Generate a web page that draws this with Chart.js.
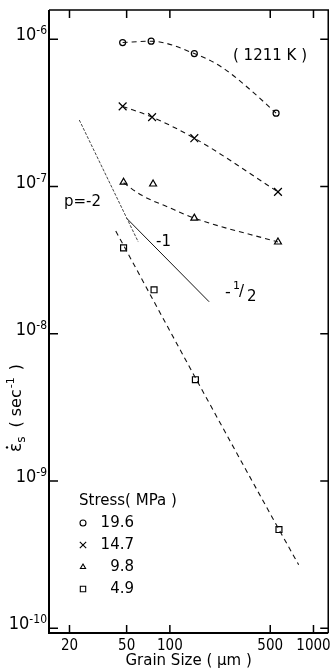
<!DOCTYPE html>
<html>
<head>
<meta charset="utf-8">
<script src="https://cdn.jsdelivr.net/npm/chart.js@4.4.1/dist/chart.umd.min.js"></script>
<style>
  html, body { margin: 0; padding: 0; background: #fff; }
  #wrap { width: 335px; height: 670px; }
</style>
</head>
<body>
<div id="wrap"><canvas id="grafica" width="335" height="670"></canvas></div>
<script>
  // Datos: velocidad de fluencia vs tamaño de grano (1211 K)
  const stressLabels = ['19.6', '14.7', '9.8', '4.9'];
  const stressStyles = ['circle', 'crossRot', 'triangle', 'rect'];

  // puntos medidos (tamaño de grano en µm, velocidad en s^-1)
  const grain196 = [46.9, 74.1, 148, 549];
  const rate196 = [9.5e-7, 9.7e-7, 8.0e-7, 3.15e-7];
  const grain147 = [46.9, 75.2, 148, 566];
  const rate147 = [3.5e-7, 2.96e-7, 2.13e-7, 9.2e-8];
  const grain98 = [47.6, 76.4, 148, 566];
  const rate98 = [1.07e-7, 1.04e-7, 6.1e-8, 4.2e-8];
  const grain49 = [47.6, 77.6, 150.6, 575];
  const rate49 = [3.83e-8, 1.99e-8, 4.88e-9, 4.69e-10];

  // curvas de ajuste a trazos
  const fitGrain196 = [46.9, 74.1, 148, 230, 353, 549];
  const fitRate196 = [9.5e-7, 9.7e-7, 8.0e-7, 6.46e-7, 4.65e-7, 3.15e-7];
  const fitGrain147 = [46.9, 75.2, 148, 566];
  const fitRate147 = [3.5e-7, 2.96e-7, 2.13e-7, 9.2e-8];
  const fitGrain98 = [47.6, 63.2, 96.8, 148, 566];
  const fitRate98 = [1.06e-7, 8.75e-8, 7.26e-8, 6.1e-8, 4.2e-8];
  const fitGrain49 = [42, 150.6, 575, 789];
  const fitRate49 = [4.99e-8, 5.03e-9, 4.69e-10, 2.7e-10];

  // rectas de pendiente p = -2 y p = -1
  const slope2Grain = [23.4, 60.3];
  const slope2Rate = [2.83e-7, 4.2e-8];
  const slope1Grain = [49.9, 187.7];
  const slope1Rate = [6.1e-8, 1.65e-8];

  // ejes
  const xTicks = [20, 50, 100, 500, 1000];
  const yTickExp = [-10, -9, -8, -7, -6];

  const NARROW = '"Liberation Sans Narrow", "DejaVu Sans Condensed", sans-serif';
  const SANS = '"DejaVu Sans", sans-serif';

  function toXY(xs, ys) {
    return xs.map((x, i) => ({ x: x, y: ys[i] }));
  }

  function markers(xs, ys, style, r) {
    return {
      data: toXY(xs, ys), showLine: false, pointStyle: style, pointRadius: r,
      pointBorderColor: '#000', pointBackgroundColor: '#fff', pointBorderWidth: 1.2
    };
  }

  function fit(xs, ys) {
    return {
      data: toXY(xs, ys), showLine: true, pointRadius: 0, borderColor: '#111',
      borderWidth: 1.1, borderDash: [5, 4], cubicInterpolationMode: 'monotone'
    };
  }

  // marco, marcas internas, etiquetas y leyenda
  const marco = {
    id: 'marco',
    afterDraw(chart) {
      const ctx = chart.ctx;
      const a = chart.chartArea;
      const sx = chart.scales.x, sy = chart.scales.y;
      ctx.save();
      ctx.strokeStyle = '#000';
      ctx.lineWidth = 2;
      ctx.beginPath();
      ctx.moveTo(a.left, a.top); ctx.lineTo(a.left, a.bottom); ctx.lineTo(a.right, a.bottom);
      ctx.stroke();
      ctx.lineWidth = 1.5;
      ctx.beginPath();
      ctx.moveTo(a.left, a.top); ctx.lineTo(a.right, a.top); ctx.lineTo(a.right, a.bottom);
      ctx.stroke();

      ctx.lineWidth = 1.5;
      ctx.beginPath();
      xTicks.forEach(v => {
        const px = sx.getPixelForValue(v);
        ctx.moveTo(px, a.bottom); ctx.lineTo(px, a.bottom - 8);
        ctx.moveTo(px, a.top); ctx.lineTo(px, a.top + 8);
      });
      yTickExp.forEach(e => {
        const py = sy.getPixelForValue(Math.pow(10, e));
        ctx.moveTo(a.left, py); ctx.lineTo(a.left + 9, py);
        ctx.moveTo(a.right, py); ctx.lineTo(a.right - 8, py);
      });
      ctx.stroke();

      // etiquetas del eje y: 10^n
      ctx.fillStyle = '#000';
      ctx.textBaseline = 'alphabetic';
      yTickExp.forEach(e => {
        const py = sy.getPixelForValue(Math.pow(10, e));
        const sup = String(e);
        ctx.font = '12px ' + NARROW;
        const wSup = ctx.measureText(sup).width;
        ctx.textAlign = 'right';
        ctx.fillText(sup, a.left - 2, py - 5);
        ctx.font = '18px ' + NARROW;
        ctx.fillText('10', a.left - 2 - wSup, py + 1);
      });

      // título del eje y (girado)
      ctx.save();
      ctx.translate(21, 452);
      ctx.rotate(-Math.PI / 2);
      ctx.textAlign = 'left';
      ctx.textBaseline = 'alphabetic';
      let cx = 0;
      ctx.font = '17px ' + SANS;
      ctx.fillText('ε', cx, 0);
      const wEps = ctx.measureText('ε').width;
      ctx.beginPath();
      ctx.arc(cx + wEps / 2, -14, 1.2, 0, Math.PI * 2);
      ctx.fill();
      cx += wEps;
      ctx.font = '12px ' + SANS;
      ctx.fillText('s', cx, 4);
      cx += ctx.measureText('s').width + 9;
      ctx.font = '16px ' + SANS;
      ctx.fillText('( sec', cx, 0);
      cx += ctx.measureText('( sec').width;
      ctx.font = '11px ' + SANS;
      ctx.fillText('-1', cx + 1, -7);
      cx += ctx.measureText('-1').width + 3;
      ctx.font = '16px ' + SANS;
      ctx.fillText(' )', cx, 0);
      ctx.restore();

      // anotaciones
      ctx.textAlign = 'left';
      ctx.textBaseline = 'middle';
      ctx.font = '15px ' + SANS;
      ctx.fillText('( 1211 K )', 233, 56);
      ctx.fillText('p=-2', 64, 202);
      ctx.fillText('-1', 156, 242);
      ctx.font = '16px ' + SANS;
      ctx.fillText('-', 225, 293);
      ctx.font = '11px ' + SANS;
      ctx.fillText('1', 233, 286);
      ctx.font = '15px ' + SANS;
      ctx.fillText('/', 239, 292);
      ctx.fillText('2', 247, 297);

      // leyenda
      ctx.font = '15px ' + SANS;
      ctx.textAlign = 'left';
      ctx.fillText('Stress( MPa )', 79, 501);
      stressLabels.forEach((t, i) => {
        const y = 523 + i * 22;
        ctx.textAlign = 'right';
        ctx.fillText(t, 134, y);
        ctx.strokeStyle = '#000';
        ctx.fillStyle = '#fff';
        ctx.lineWidth = 1.1;
        Chart.helpers.drawPoint(ctx, {
          pointStyle: stressStyles[i], radius: i === 1 ? 4.5 : (i === 3 ? 3.8 : 3), borderWidth: 1.1
        }, 83, y);
        ctx.fillStyle = '#000';
      });
      ctx.restore();
    }
  };

  new Chart(document.getElementById('grafica'), {
    type: 'scatter',
    data: {
      datasets: [
        fit(fitGrain196, fitRate196),
        fit(fitGrain147, fitRate147),
        fit(fitGrain98, fitRate98),
        fit(fitGrain49, fitRate49),
        { data: toXY(slope2Grain, slope2Rate), showLine: true, pointRadius: 0, borderColor: '#444', borderWidth: 1, borderDash: [3, 1.5] },
        { data: toXY(slope1Grain, slope1Rate), showLine: true, pointRadius: 0, borderColor: '#111', borderWidth: 1 },
        markers(grain196, rate196, 'circle', 3),
        markers(grain147, rate147, 'crossRot', 5.5),
        markers(grain98, rate98, 'triangle', 4),
        markers(grain49, rate49, 'rect', 4.2)
      ]
    },
    options: {
      responsive: false,
      animation: false,
      devicePixelRatio: 1,
      layout: { padding: { left: 0, right: 3, top: 10, bottom: 0 } },
      plugins: { legend: { display: false }, tooltip: { enabled: false } },
      scales: {
        x: {
          type: 'logarithmic', min: 14.4, max: 1267,
          afterBuildTicks: s => { s.ticks = xTicks.map(v => ({ value: v })); },
          afterFit: s => { s.height = 37; },
          grid: { display: false, drawTicks: false },
          border: { display: false },
          ticks: {
            autoSkip: false, maxRotation: 0, padding: 4, color: '#000',
            font: { family: NARROW, size: 15 },
            callback: v => String(v)
          },
          title: {
            display: true, text: 'Grain Size ( µm )', color: '#000',
            font: { family: SANS, size: 15 }, padding: { top: -4, bottom: 0 }
          }
        },
        y: {
          type: 'logarithmic', min: 9.3e-11, max: 1.58e-6,
          afterBuildTicks: s => { s.ticks = yTickExp.map(e => ({ value: Math.pow(10, e) })); },
          afterFit: s => { s.width = 49; },
          grid: { display: false, drawTicks: false },
          border: { display: false },
          ticks: { display: false }
        }
      }
    },
    plugins: [marco]
  });
</script>
</body>
</html>
